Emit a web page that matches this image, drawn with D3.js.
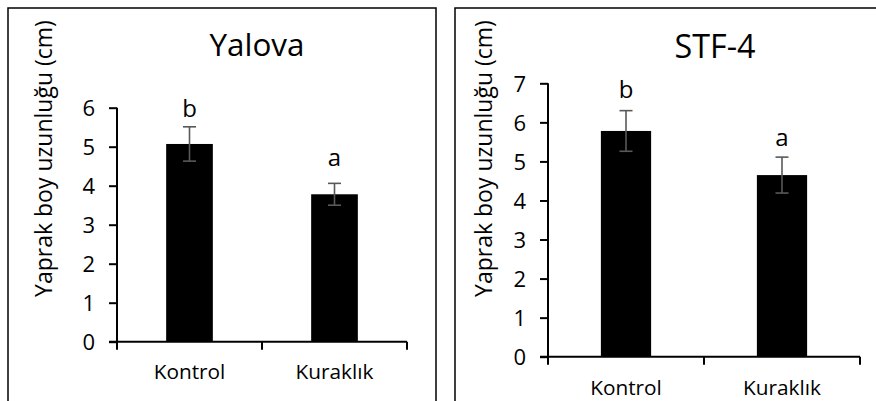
<!DOCTYPE html>
<html>
<head>
<meta charset="utf-8">
<script src="https://cdn.jsdelivr.net/npm/d3@7"></script>
<style>
  html, body { margin: 0; padding: 0; background: #fff; }
  svg { display: block; }
  text { font-family: "Open Sans", sans-serif; fill: #000; }
</style>
</head>
<body>
<svg id="chart" width="876" height="401"></svg>
<script>
const categories = ["Kontrol", "Kuraklık"];
const letters = ["b", "a"];
const yLabel = "Yaprak boy uzunluğu (cm)";

const yalovaTitle = "Yalova";
const yalovaMeans = [5.07, 3.78];
const yalovaErrors = [0.44, 0.28];
const yalovaTicks = [0, 1, 2, 3, 4, 5, 6];

const stfTitle = "STF-4";
const stfMeans = [5.78, 4.65];
const stfErrors = [0.52, 0.46];
const stfTicks = [0, 1, 2, 3, 4, 5, 6, 7];

const svg = d3.select("#chart");
const FONT = '"Open Sans", sans-serif';

function fitWidth(sel, target) {
  const node = sel.node();
  const fs = parseFloat(sel.style("font-size"));
  const w = node.getComputedTextLength();
  if (w > 0) sel.style("font-size", (fs * target / w).toFixed(2) + "px");
}

function panel(cfg) {
  const g = svg.append("g");
  g.append("rect")
    .attr("x", cfg.frame[0]).attr("y", cfg.frame[1])
    .attr("width", cfg.frame[2]).attr("height", cfg.frame[3])
    .attr("fill", "none").attr("stroke", "#000").attr("stroke-width", 1.5);

  const y = d3.scaleLinear().domain([0, d3.max(cfg.ticks)]).range([cfg.y0, cfg.yTop]);
  const x = d3.scaleBand().domain(categories).range([cfg.x0, cfg.x1]).padding(0);
  const bw = x.bandwidth() * 0.322;

  const yAxis = g.append("g").attr("transform", `translate(${cfg.x0},0)`)
    .call(d3.axisLeft(y).tickValues(cfg.ticks).tickSize(8).tickPadding(14).tickFormat(d3.format("d")));
  yAxis.select(".domain").attr("stroke", "#000").attr("stroke-width", 2).attr("d", `M0,${cfg.yTop}V${cfg.y0}`);
  yAxis.selectAll(".tick line").attr("stroke", "#000").attr("stroke-width", 2);
  yAxis.selectAll(".tick text").style("font-size", "22px").attr("fill", "#000")
    .style("font-family", FONT).attr("dy", "0.36em");

  const xg = g.append("g");
  xg.append("line").attr("x1", cfg.x0 - 8).attr("x2", cfg.x1).attr("y1", cfg.y0).attr("y2", cfg.y0)
    .attr("stroke", "#000").attr("stroke-width", 2);
  const bounds = [cfg.x0].concat(categories.map(c => x(c) + x.bandwidth()));
  xg.selectAll("line.xt").data(bounds).join("line").attr("class", "xt")
    .attr("x1", d => d).attr("x2", d => d).attr("y1", cfg.y0).attr("y2", cfg.y0 + 8)
    .attr("stroke", "#000").attr("stroke-width", 2);
  xg.selectAll("text.cat").data(categories).join("text").attr("class", "cat")
    .attr("x", d => x(d) + x.bandwidth() / 2).attr("y", cfg.catY)
    .attr("text-anchor", "middle").style("font-size", "20.8px").text(d => d);

  g.selectAll("rect.bar").data(cfg.means).join("rect").attr("class", "bar")
    .attr("x", (d, i) => x(categories[i]) + x.bandwidth() / 2 - bw / 2)
    .attr("width", bw)
    .attr("y", d => y(d)).attr("height", d => y(0) - y(d))
    .attr("fill", "#000");

  const eb = g.selectAll("g.eb").data(cfg.means).join("g").attr("class", "eb");
  eb.append("line")
    .attr("x1", (d, i) => x(categories[i]) + x.bandwidth() / 2)
    .attr("x2", (d, i) => x(categories[i]) + x.bandwidth() / 2)
    .attr("y1", (d, i) => y(d + cfg.errors[i])).attr("y2", (d, i) => y(d - cfg.errors[i]))
    .attr("stroke", "#595959").attr("stroke-width", 1.6);
  [1, -1].forEach(s => {
    eb.append("line")
      .attr("x1", (d, i) => x(categories[i]) + x.bandwidth() / 2 - 6.5)
      .attr("x2", (d, i) => x(categories[i]) + x.bandwidth() / 2 + 6.5)
      .attr("y1", (d, i) => y(d + s * cfg.errors[i])).attr("y2", (d, i) => y(d + s * cfg.errors[i]))
      .attr("stroke", "#595959").attr("stroke-width", 1.6);
  });

  g.selectAll("text.let").data(letters).join("text").attr("class", "let")
    .attr("x", (d, i) => x(categories[i]) + x.bandwidth() / 2)
    .attr("y", (d, i) => y(cfg.means[i] + cfg.errors[i]) - cfg.letGap[i])
    .attr("text-anchor", "middle").style("font-size", "24px").text(d => d);

  const t = g.append("text").attr("x", cfg.titleX).attr("y", cfg.titleY).attr("text-anchor", "middle")
    .style("font-size", "31.5px").text(cfg.title);
  fitWidth(t, cfg.titleW);

  const yl = g.append("text").attr("transform", `translate(${cfg.ylabX},${cfg.ylabY}) rotate(-90)`)
    .attr("text-anchor", "middle").style("font-size", "21px").text(yLabel);
  fitWidth(yl, 277);
}

panel({
  frame: [8, 8, 428, 420],
  title: yalovaTitle, titleW: 95, means: yalovaMeans, errors: yalovaErrors, ticks: yalovaTicks,
  x0: 117, x1: 407, y0: 341.7, yTop: 107.7, letGap: [10, 17],
  catY: 379, titleX: 257, titleY: 56, ylabX: 52, ylabY: 158.5
});

panel({
  frame: [455, 8, 440, 420],
  title: stfTitle, titleW: 81, means: stfMeans, errors: stfErrors, ticks: stfTicks,
  x0: 548, x1: 860, y0: 356.7, yTop: 83.3, letGap: [12.7, 10.7],
  catY: 395, titleX: 715, titleY: 58, ylabX: 492, ylabY: 158.5
});
</script>
</body>
</html>
